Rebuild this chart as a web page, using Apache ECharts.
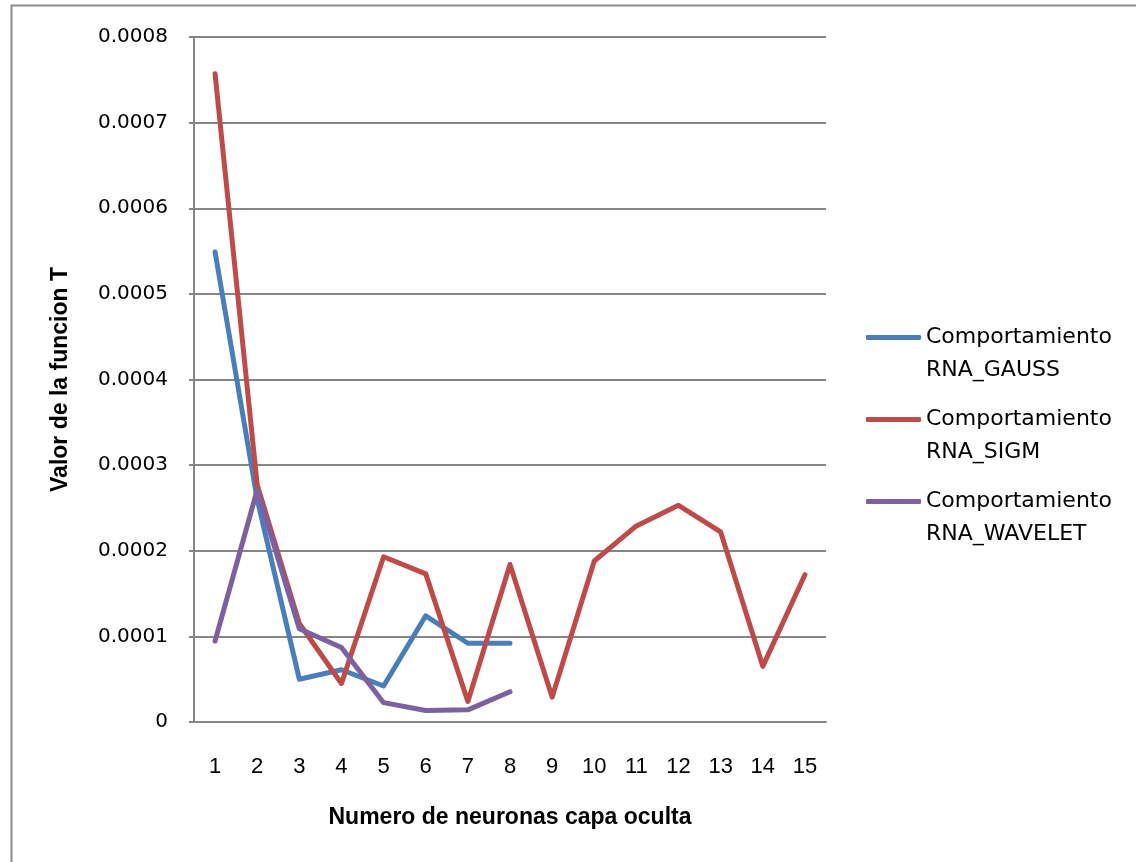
<!DOCTYPE html>
<html>
<head>
<meta charset="utf-8">
<script src="https://cdn.jsdelivr.net/npm/echarts@6/dist/echarts.min.js"></script>
<style>
  html, body { margin: 0; padding: 0; background: #ffffff; }
  #chart { width: 1136px; height: 862px; }
</style>
</head>
<body>
<div id="chart"></div>
<script>
// Hidden-layer neuron counts (x axis)
const neuronas = ['1', '2', '3', '4', '5', '6', '7', '8', '9', '10', '11', '12', '13', '14', '15'];

// Value of function T per network type
const rnaGauss = [0.000549, 0.000260, 0.000050, 0.000061, 0.000042, 0.000124, 0.000092, 0.000092];
const rnaSigm = [0.000757, 0.000277, 0.000115, 0.000045, 0.000193, 0.000173, 0.000024, 0.000184,
                 0.000029, 0.000188, 0.000229, 0.000253, 0.000222, 0.000065, 0.000172];
const rnaWavelet = [0.0000946, 0.000271, 0.000109, 0.000087, 0.0000226, 0.0000135, 0.0000142, 0.0000354];

const seriesNames = ['Comportamiento\nRNA_GAUSS', 'Comportamiento\nRNA_SIGM', 'Comportamiento\nRNA_WAVELET'];
const seriesColors = ['#4A7EBB', '#BE4B48', '#7D60A0'];
const seriesData = [rnaGauss, rnaSigm, rnaWavelet];

const axisGray = '#868686';

const chart = echarts.init(document.getElementById('chart'), null, { renderer: 'canvas' });

chart.setOption({
  backgroundColor: '#ffffff',
  animation: false,
  graphic: [{
    type: 'rect',
    left: 9, top: 3,
    shape: { width: 1200, height: 900 },
    style: { fill: 'none', stroke: '#8c8c8c', lineWidth: 2 },
    silent: true
  }],
  grid: { left: 194, top: 37, right: 310, bottom: 140, containLabel: false },
  legend: {
    orient: 'vertical',
    left: 866,
    top: 288,
    padding: 0,
    itemGap: -17,
    itemWidth: 55,
    itemHeight: 5,
    icon: 'roundRect',
    selectedMode: false,
    // a leading blank line keeps the swatch level with the first text line
    formatter: name => '\n' + name,
    textStyle: {
      fontFamily: 'DejaVu Sans',
      fontSize: 22,
      color: '#000000',
      lineHeight: 33
    },
    data: seriesNames
  },
  xAxis: {
    type: 'category',
    data: neuronas,
    boundaryGap: true,
    name: 'Numero de neuronas capa oculta',
    nameLocation: 'middle',
    nameGap: 84,
    nameTextStyle: { fontFamily: 'Liberation Sans', fontWeight: 'bold', fontSize: 23, color: '#000000' },
    axisLine: { show: true, lineStyle: { color: axisGray, width: 2 } },
    axisTick: { show: false },
    axisLabel: {
      margin: 34,
      fontFamily: 'Liberation Sans Narrow, Liberation Sans',
      fontSize: 22,
      color: '#000000'
    },
    splitLine: { show: false }
  },
  yAxis: {
    type: 'value',
    min: 0,
    max: 0.0008,
    interval: 0.0001,
    name: 'Valor de la funcion T',
    nameLocation: 'middle',
    nameGap: 122,
    nameRotate: 90,
    nameTextStyle: { fontFamily: 'Liberation Sans', fontWeight: 'bold', fontSize: 23, color: '#000000' },
    axisLine: { show: true, lineStyle: { color: axisGray, width: 2 } },
    axisTick: { show: true, inside: false, length: 5, lineStyle: { color: axisGray, width: 2 } },
    axisLabel: {
      margin: 26,
      fontFamily: 'DejaVu Sans',
      fontSize: 20,
      color: '#000000',
      formatter: v => (v === 0 ? '0' : v.toFixed(4))
    },
    splitLine: { show: true, lineStyle: { color: axisGray, width: 2 } }
  },
  series: seriesNames.map((name, i) => ({
    name: name,
    type: 'line',
    data: seriesData[i],
    symbol: 'none',
    smooth: false,
    color: seriesColors[i],
    lineStyle: { color: seriesColors[i], width: 5, cap: 'round', join: 'round' },
    itemStyle: { color: seriesColors[i] }
  }))
});
</script>
</body>
</html>
